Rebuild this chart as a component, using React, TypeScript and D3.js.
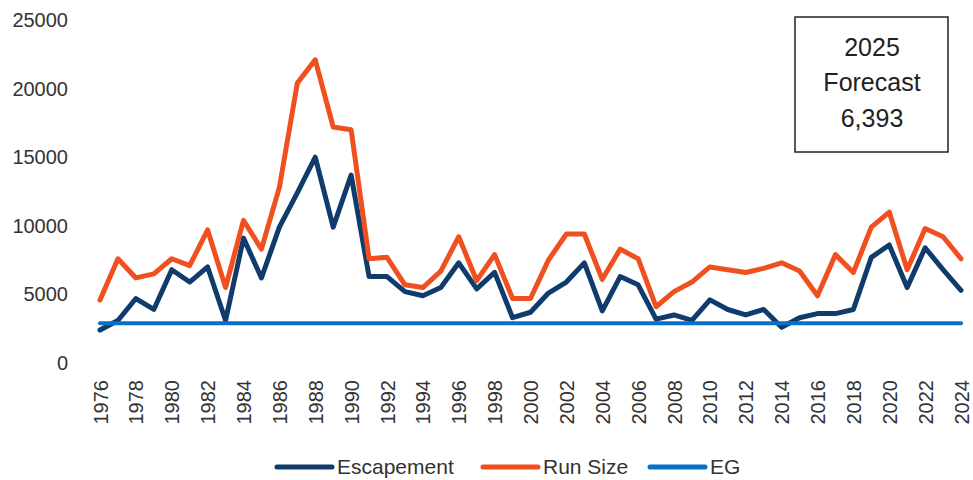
import * as d3 from "d3";
import { useEffect, useRef } from "react";

const years = d3.range(1976, 2025);

const escapement = [
  2400, 3100, 4700, 3900, 6800, 5900, 7000, 3100, 9100, 6200,
  9900, 12400, 15000, 9900, 13700, 6300, 6300, 5200, 4900, 5500,
  7300, 5400, 6600, 3300, 3700, 5100, 5900, 7300, 3800, 6300,
  5700, 3200, 3500, 3100, 4600, 3900, 3500, 3900, 2600, 3300,
  3600, 3600, 3900, 7700, 8600, 5500, 8400, 6800, 5300,
];

const runSize = [
  4600, 7600, 6200, 6500, 7600, 7100, 9700, 5500, 10400, 8300,
  12800, 20400, 22100, 17200, 17000, 7600, 7700, 5700, 5500, 6700,
  9200, 6000, 7900, 4700, 4700, 7500, 9400, 9400, 6100, 8300,
  7600, 4100, 5200, 5900, 7000, 6800, 6600, 6900, 7300, 6700,
  4900, 7900, 6600, 9900, 11000, 6800, 9800, 9200, 7600,
];

const egLevel = 2900;
const eg = years.map(() => egLevel);

const yTicks = [0, 5000, 10000, 15000, 20000, 25000];
const xTicks = years.filter((y) => (y - 1976) % 2 === 0);

const forecastLines = ["2025", "Forecast", "6,393"];

const series = [
  { name: "Escapement", values: escapement, color: "#0f3c6c", width: 5 },
  { name: "Run Size", values: runSize, color: "#f0501f", width: 5 },
  { name: "EG", values: eg, color: "#0a6fc9", width: 4 },
];

const WIDTH = 973;
const HEIGHT = 480;
const FONT = "'Liberation Sans', Arial, sans-serif";
const TEXT = "#333";

export default function App() {
  const svgRef = useRef<SVGSVGElement | null>(null);

  useEffect(() => {
    document.body.style.margin = "0";
    if (!svgRef.current) return;

    const svg = d3.select(svgRef.current);
    svg.selectAll("*").remove();

    const x = d3.scalePoint<number>().domain(years).range([100, 961]);
    const y = d3.scaleLinear().domain([0, 25000]).range([363, 20]);

    // y axis labels
    svg
      .append("g")
      .attr("transform", "translate(76,0)")
      .call(d3.axisLeft(y).tickValues(yTicks).tickSize(0).tickPadding(8).tickFormat(d3.format("d")))
      .call((g) => g.select(".domain").remove())
      .call((g) =>
        g.selectAll("text").attr("font-size", 20).attr("font-family", FONT).attr("fill", TEXT),
      );

    // x axis labels, rotated
    svg
      .append("g")
      .attr("transform", "translate(0,363)")
      .call(d3.axisBottom(x).tickValues(xTicks).tickSize(0).tickFormat(d3.format("d")))
      .call((g) => g.select(".domain").remove())
      .call((g) =>
        g
          .selectAll("text")
          .attr("transform", "rotate(-90)")
          .attr("text-anchor", "end")
          .attr("x", -17)
          .attr("y", 0)
          .attr("dy", "0.35em")
          .attr("font-size", 20)
          .attr("font-family", FONT)
          .attr("fill", TEXT),
      );

    const line = d3
      .line<number>()
      .x((_, i) => x(years[i]) ?? 0)
      .y((d) => y(d));

    svg
      .append("g")
      .selectAll("path")
      .data(series)
      .join("path")
      .attr("d", (s) => line(s.values))
      .attr("fill", "none")
      .attr("stroke", (s) => s.color)
      .attr("stroke-width", (s) => s.width)
      .attr("stroke-linejoin", "round")
      .attr("stroke-linecap", "round");

    // forecast box
    const box = svg.append("g");
    box
      .append("rect")
      .attr("x", 795)
      .attr("y", 17)
      .attr("width", 153)
      .attr("height", 135)
      .attr("fill", "#fff")
      .attr("stroke", "#222")
      .attr("stroke-width", 1.5);
    box
      .selectAll("text")
      .data(forecastLines)
      .join("text")
      .attr("x", 872)
      .attr("y", (_, i) => 47 + i * 35.5)
      .attr("dy", "0.35em")
      .attr("text-anchor", "middle")
      .attr("font-size", 25)
      .attr("font-family", FONT)
      .attr("fill", "#222")
      .text((d) => d);

    // legend
    const legendX = [277, 483, 650];
    const legend = svg
      .append("g")
      .selectAll("g")
      .data(series)
      .join("g")
      .attr("transform", (_, i) => `translate(${legendX[i]},467)`);
    legend
      .append("line")
      .attr("x1", 0)
      .attr("x2", 55)
      .attr("stroke", (s) => s.color)
      .attr("stroke-width", 5)
      .attr("stroke-linecap", "round");
    legend
      .append("text")
      .attr("x", 60)
      .attr("dy", "0.35em")
      .attr("font-size", 21)
      .attr("font-family", FONT)
      .attr("fill", TEXT)
      .text((s) => s.name);
  }, []);

  return <svg ref={svgRef} width={WIDTH} height={HEIGHT} style={{ display: "block", background: "#fff" }} />;
}
